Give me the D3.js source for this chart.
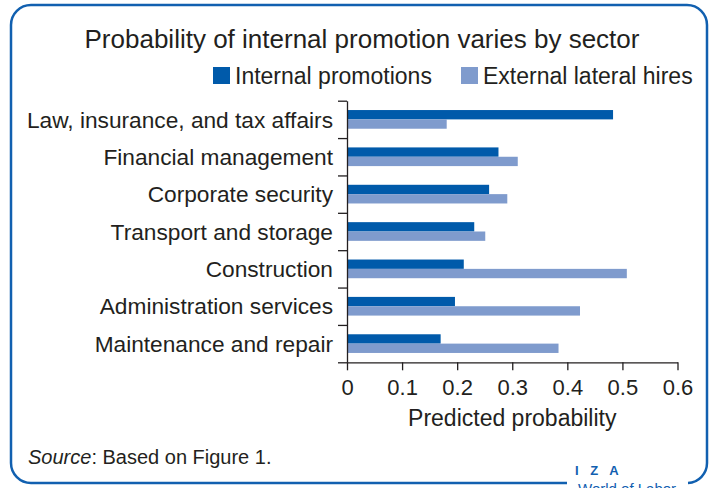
<!DOCTYPE html>
<html>
<head>
<meta charset="utf-8">
<script src="https://cdn.jsdelivr.net/npm/d3@7"></script>
<style>
  html, body { margin: 0; padding: 0; background: #fff; }
  svg { display: block; font-family: "Liberation Sans", Arial, sans-serif; }
</style>
</head>
<body>
<svg id="chart" width="717" height="488"></svg>
<script>
// Sectors, top to bottom
const sectors = [
  "Law, insurance, and tax affairs",
  "Financial management",
  "Corporate security",
  "Transport and storage",
  "Construction",
  "Administration services",
  "Maintenance and repair"
];
// Predicted probability by hiring route
const internalPromotions = [0.483, 0.275, 0.258, 0.231, 0.212, 0.196, 0.170];
const externalLateralHires = [0.181, 0.310, 0.291, 0.251, 0.508, 0.423, 0.384];
const seriesNames = ["Internal promotions", "External lateral hires"];
const xTicks = [0, 0.1, 0.2, 0.3, 0.4, 0.5, 0.6];

const colors = ["#005aaa", "#7f9bcd"];
const ink = "#231f20";
const frame = "#1160b0";

const svg = d3.select("#chart");

// Rounded frame, left open at the bottom right for the logo
svg.append("path")
  .attr("d", "M567,483 H31 A20,20 0 0 1 11,463 V25 A20,20 0 0 1 31,5 H687 A20,20 0 0 1 707,25 V463 A20,20 0 0 1 688,483")
  .attr("fill", "none")
  .attr("stroke", frame)
  .attr("stroke-width", 2.5);

// Title
svg.append("text")
  .attr("x", 362).attr("y", 48)
  .attr("text-anchor", "middle")
  .attr("font-size", 26)
  .attr("fill", ink)
  .text("Probability of internal promotion varies by sector");

// Legend
const legendX = [213, 461];
seriesNames.forEach((name, i) => {
  const g = svg.append("g").attr("transform", `translate(${legendX[i]},0)`);
  g.append("rect").attr("x", 0).attr("y", 67).attr("width", 17).attr("height", 17).attr("fill", colors[i]);
  g.append("text").attr("x", 22).attr("y", 84).attr("font-size", 23).attr("fill", ink).text(name);
});

// Scales
const plotLeft = 347, plotRight = 677.5, plotTop = 100.7, plotBottom = 362.3;
const x = d3.scaleLinear().domain([0, 0.6]).range([plotLeft, plotRight]);
const y = d3.scaleBand().domain(sectors).range([plotTop, plotBottom]).paddingInner(0.5).paddingOuter(0.25);
const ySub = d3.scaleBand().domain([0, 1]).range([0, y.bandwidth()]);
const yEdge = d3.scaleLinear().domain([0, sectors.length]).range([plotTop, plotBottom]);

// Bars
const rows = svg.append("g").selectAll("g").data(sectors).join("g")
  .attr("transform", d => `translate(0,${y(d)})`);
rows.each(function(d, i) {
  const vals = [internalPromotions[i], externalLateralHires[i]];
  d3.select(this).selectAll("rect").data(vals).join("rect")
    .attr("x", x(0))
    .attr("y", (v, j) => ySub(j))
    .attr("width", v => x(v) - x(0))
    .attr("height", ySub.bandwidth())
    .attr("fill", (v, j) => colors[j]);
});

// Left axis: ticks on category boundaries
const leftAxis = svg.append("g")
  .attr("transform", `translate(${plotLeft},0)`)
  .call(d3.axisLeft(yEdge).tickValues(d3.range(sectors.length + 1)).tickSize(9).tickSizeOuter(0).tickFormat(""));
leftAxis.selectAll("path, line").attr("stroke", ink).attr("stroke-width", 1.3);

// Category labels
svg.append("g").selectAll("text").data(sectors).join("text")
  .attr("x", 333)
  .attr("y", d => y(d) + y.bandwidth() / 2)
  .attr("dy", "0.36em")
  .attr("text-anchor", "end")
  .attr("font-size", 22.7)
  .attr("fill", ink)
  .text(d => d);

// Bottom axis
const bottomAxis = svg.append("g")
  .attr("transform", `translate(0,${plotBottom})`)
  .call(d3.axisBottom(x).tickValues(xTicks).tickSize(8).tickSizeOuter(0)
    .tickFormat(d => d === 0 ? "0" : d3.format(".1f")(d)));
bottomAxis.selectAll("path, line").attr("stroke", ink).attr("stroke-width", 1.3);
bottomAxis.selectAll("text")
  .attr("y", 32.7).attr("dy", 0)
  .attr("font-size", 22)
  .attr("font-family", "\"Liberation Sans\", Arial, sans-serif")
  .attr("fill", ink);

// Axis title
svg.append("text")
  .attr("x", x(0.3)).attr("y", 426)
  .attr("text-anchor", "middle")
  .attr("font-size", 23)
  .attr("fill", ink)
  .text("Predicted probability");

// Source note
const src = svg.append("text")
  .attr("x", 28).attr("y", 464)
  .attr("font-size", 20)
  .attr("fill", ink);
src.append("tspan").attr("font-style", "italic").text("Source");
src.append("tspan").text(": Based on Figure 1.");

// Logo
svg.append("text")
  .attr("x", 575).attr("y", 475)
  .attr("font-size", 13)
  .attr("font-weight", "bold")
  .attr("letter-spacing", 4)
  .attr("fill", frame)
  .text("I Z A");
svg.append("text")
  .attr("x", 578).attr("y", 494)
  .attr("font-size", 15)
  .attr("fill", frame)
  .text("World of Labor");
</script>
</body>
</html>
